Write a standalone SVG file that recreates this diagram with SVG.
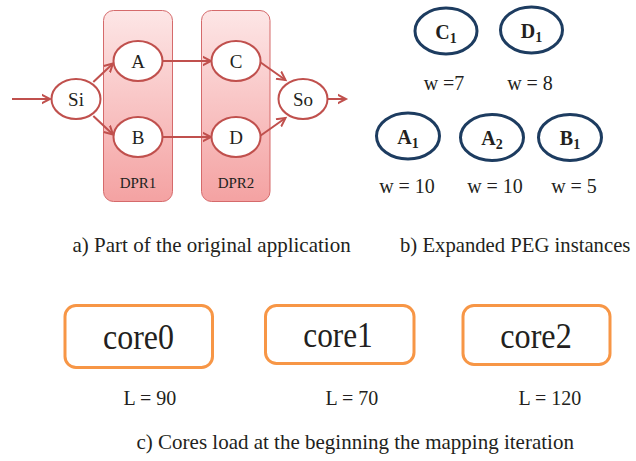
<svg xmlns="http://www.w3.org/2000/svg" width="636" height="461" viewBox="0 0 636 461">
<style>
.t{font-family:"Liberation Serif","Times New Roman",serif;fill:#231f20}
.dpr{fill:url(#g);stroke:#d56a6b;stroke-width:1}
.nd{fill:#fff;stroke:#c0504d;stroke-width:2}
.peg{fill:#fff;stroke:#1d3c60;stroke-width:3}
.core{fill:#fff;stroke:#f79646;stroke-width:3}
.cn{fill:none;stroke:#c0504d;stroke-width:2;marker-end:url(#ah)}
</style>
<defs>
<linearGradient id="g" x1="0" y1="0" x2="0" y2="1">
<stop offset="0" stop-color="#fde6e6"/>
<stop offset="1" stop-color="#f4a2a2"/>
</linearGradient>
<marker id="ah" markerUnits="userSpaceOnUse" markerWidth="12" markerHeight="12" refX="8.5" refY="5" orient="auto" viewBox="0 0 12 10">
<path d="M0,0.5 L8.5,5 L0,9.5" fill="none" stroke="#c0504d" stroke-width="2"/>
</marker>
</defs>
<g id="dpr1"><rect class="dpr" x="103.5" y="10.5" width="69" height="191" rx="10"/><text class="t" x="138" y="188" font-size="15" text-anchor="middle">DPR1</text></g>
<g id="dpr2"><rect class="dpr" x="201.5" y="10.5" width="68.5" height="191" rx="10"/><text class="t" x="236" y="188" font-size="15" text-anchor="middle">DPR2</text></g>
<g id="connectors">
<path class="cn" d="M12,99 L50,99"/>
<path class="cn" d="M328,99 L346,99"/>
<path class="cn" d="M162.5,61 L211,61"/>
<path class="cn" d="M162.5,137 L211,137"/>
<path class="cn" d="M93.3,82 L113,63.5"/>
<path class="cn" d="M93.3,116 L113,134.5"/>
<path class="cn" d="M260,62 L285.5,80"/>
<path class="cn" d="M260,136 L285.5,118"/>
</g>
<g id="Si"><ellipse class="nd" cx="76" cy="99" rx="24.5" ry="20"/><text class="t" x="76" y="106" font-size="19" text-anchor="middle">Si</text></g>
<g id="A"><ellipse class="nd" cx="138" cy="61" rx="24.5" ry="20"/><text class="t" x="138" y="68" font-size="19" text-anchor="middle">A</text></g>
<g id="B"><ellipse class="nd" cx="138" cy="137" rx="24.5" ry="20"/><text class="t" x="138" y="144" font-size="19" text-anchor="middle">B</text></g>
<g id="C"><ellipse class="nd" cx="236" cy="61" rx="24.5" ry="20"/><text class="t" x="236" y="68" font-size="19" text-anchor="middle">C</text></g>
<g id="D"><ellipse class="nd" cx="236" cy="137" rx="24.5" ry="20"/><text class="t" x="236" y="144" font-size="19" text-anchor="middle">D</text></g>
<g id="So"><ellipse class="nd" cx="303" cy="99" rx="24.5" ry="20"/><text class="t" x="303" y="106" font-size="19" text-anchor="middle">So</text></g>
<g id="C1"><ellipse class="peg" cx="446" cy="31" rx="31" ry="23"/><text class="t" x="446" y="38.5" font-size="20" font-weight="bold" text-anchor="middle">C<tspan font-size="14" dy="4">1</tspan></text><text class="t" x="444" y="90" font-size="20" text-anchor="middle">w =7</text></g>
<g id="D1"><ellipse class="peg" cx="531.5" cy="30" rx="31" ry="23"/><text class="t" x="531.5" y="37.5" font-size="20" font-weight="bold" text-anchor="middle">D<tspan font-size="14" dy="4">1</tspan></text><text class="t" x="530" y="90" font-size="20" text-anchor="middle">w = 8</text></g>
<g id="A1"><ellipse class="peg" cx="408" cy="136" rx="31.5" ry="23"/><text class="t" x="408" y="144" font-size="20" font-weight="bold" text-anchor="middle">A<tspan font-size="14" dy="4">1</tspan></text><text class="t" x="407" y="193" font-size="20" text-anchor="middle">w = 10</text></g>
<g id="A2"><ellipse class="peg" cx="492" cy="137.5" rx="31.5" ry="23"/><text class="t" x="492" y="145" font-size="20" font-weight="bold" text-anchor="middle">A<tspan font-size="14" dy="4">2</tspan></text><text class="t" x="495" y="193" font-size="20" text-anchor="middle">w = 10</text></g>
<g id="B1"><ellipse class="peg" cx="570" cy="137.5" rx="31.5" ry="23"/><text class="t" x="570" y="145" font-size="20" font-weight="bold" text-anchor="middle">B<tspan font-size="14" dy="4">1</tspan></text><text class="t" x="574" y="193" font-size="20" text-anchor="middle">w = 5</text></g>
<text class="t" x="72.5" y="251.5" font-size="21">a) Part of the original application</text>
<text class="t" x="400" y="251.5" font-size="20.7">b) Expanded PEG instances</text>
<g id="core0"><rect class="core" x="65" y="305.5" width="147.5" height="62" rx="11"/><text class="t" x="138.5" y="349" font-size="35" text-anchor="middle" textLength="71" lengthAdjust="spacingAndGlyphs">core0</text><text class="t" x="150" y="405" font-size="20" text-anchor="middle">L = 90</text></g>
<g id="core1"><rect class="core" x="265.5" y="305.5" width="148.5" height="58" rx="11"/><text class="t" x="338" y="346.5" font-size="35" text-anchor="middle" textLength="69.5" lengthAdjust="spacingAndGlyphs">core1</text><text class="t" x="352" y="405" font-size="20" text-anchor="middle">L = 70</text></g>
<g id="core2"><rect class="core" x="463" y="305.5" width="147" height="59" rx="11"/><text class="t" x="536" y="347.5" font-size="35" text-anchor="middle" textLength="71.5" lengthAdjust="spacingAndGlyphs">core2</text><text class="t" x="550" y="405" font-size="20" text-anchor="middle">L = 120</text></g>
<text class="t" x="136.5" y="449" font-size="21">c) Cores load at the beginning the mapping iteration</text>
</svg>
